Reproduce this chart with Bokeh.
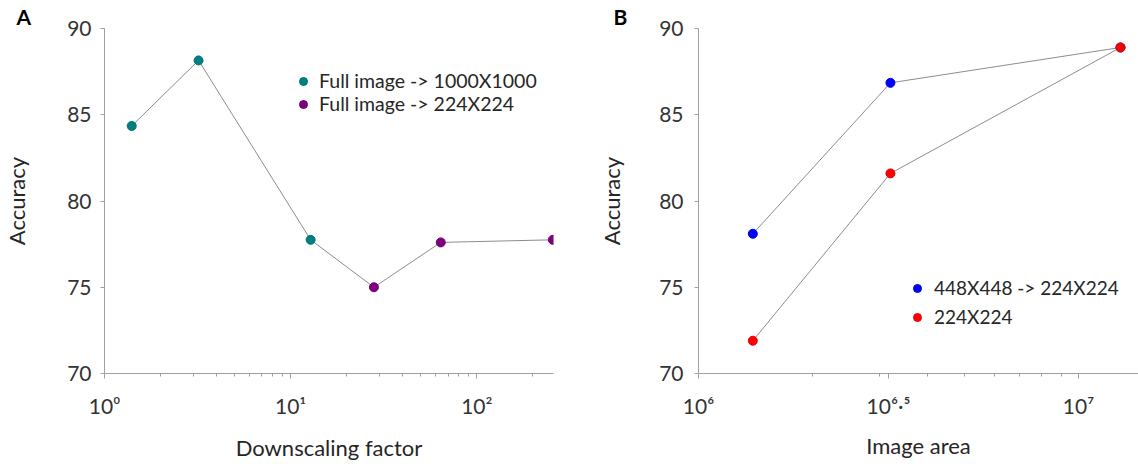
from bokeh.plotting import figure
from bokeh.models import (FixedTicker, Legend, LegendItem, Range1d, Title)
from bokeh.layouts import row
from bokeh.embed import file_html
from bokeh.resources import INLINE

# ---------------- data ----------------
# Panel A
a_factor_1000 = [1.4, 3.2, 12.8]
a_acc_1000 = [84.35, 88.15, 77.75]
a_factor_224 = [28.0, 64.0, 256.0]
a_acc_224 = [75.0, 77.6, 77.75]
a_ticks = [1, 10, 100]
a_tick_labels = ["10\u2070", "10\u00b9", "10\u00b2"]
a_minor_mult = [2, 3, 4, 5, 6, 7, 8, 9]

# Panel B
b_area = [1.39e6, 3.2e6, 1.29e7]
b_acc_448 = [78.1, 86.85, 88.9]
b_acc_224 = [71.9, 81.6, 88.9]
b_ticks = [1e6, 10 ** 6.5, 1e7]
b_tick_labels = ["10\u2076", "10\u2076\u00b7\u2075", "10\u2077"]
b_minor = [2e6, 3e6, 4e6, 5e6, 6e6, 7e6, 8e6, 9e6]

y_ticks = [70, 75, 80, 85, 90]

FONT = "Lato"
AXIS_COL = "#a0a0a0"
TXT = "#333333"
TITLE_COL = "#262626"
LINE_COL = "#8c8c8c"


def style(p, y_standoff, ylab_standoff, xlab_standoff):
    p.grid.visible = False
    p.outline_line_color = None
    p.background_fill_color = "white"
    p.border_fill_color = "white"
    yax = p.yaxis[0]
    yax.ticker = FixedTicker(ticks=y_ticks)
    yax.axis_line_color = AXIS_COL
    yax.major_tick_line_color = AXIS_COL
    yax.major_tick_out = 4
    yax.major_tick_in = 0
    yax.minor_tick_line_color = None
    yax.major_label_standoff = y_standoff
    yax.major_label_text_font = FONT
    yax.major_label_text_font_size = "21px"
    yax.major_label_text_color = TXT
    yax.axis_label = "Accuracy"
    yax.axis_label_text_font = FONT
    yax.axis_label_text_font_size = "22px"
    yax.axis_label_text_font_style = "normal"
    yax.axis_label_text_color = TITLE_COL
    yax.axis_label_standoff = ylab_standoff
    xax = p.xaxis[0]
    xax.axis_line_color = AXIS_COL
    xax.major_tick_line_color = AXIS_COL
    xax.minor_tick_line_color = AXIS_COL
    xax.major_tick_out = 5
    xax.major_tick_in = 0
    xax.minor_tick_out = 3
    xax.minor_tick_in = 0
    xax.major_label_text_font = FONT
    xax.major_label_text_font_size = "21px"
    xax.major_label_text_color = TXT
    xax.major_label_standoff = 14
    xax.axis_label_text_font = FONT
    xax.axis_label_text_font_size = "22px"
    xax.axis_label_text_font_style = "normal"
    xax.axis_label_text_color = TITLE_COL
    xax.axis_label_standoff = xlab_standoff


def add_legend(p, label, r, loc, standoff, size):
    lg = Legend(items=[LegendItem(label=label, renderers=[r])], location=loc,
                padding=0, margin=0, spacing=0,
                glyph_width=20, glyph_height=20, label_standoff=standoff,
                border_line_color=None, background_fill_alpha=0,
                label_text_font=FONT, label_text_font_size=size, label_text_color=TITLE_COL)
    p.add_layout(lg)


def panel_title(p, text, offset):
    p.add_layout(Title(text=text, align="left", offset=offset, standoff=0,
                       text_font=FONT, text_font_size="21px", text_font_style="bold",
                       text_color="black"), "above")


# ---------------- panel A ----------------
pa = figure(width=580, height=464, x_axis_type="log",
            x_range=Range1d(1, 258), y_range=Range1d(70, 90),
            min_border_left=104, min_border_right=27, min_border_top=24, min_border_bottom=91,
            toolbar_location=None, output_backend="svg")
style(pa, 9, 34, 13)
pa.xaxis[0].axis_label = "Downscaling factor"
a_minor = [m * t for t in a_ticks for m in a_minor_mult if m * t < 258]
pa.xaxis[0].ticker = FixedTicker(ticks=a_ticks, minor_ticks=a_minor)
pa.xaxis[0].major_label_overrides = dict(zip(a_ticks, a_tick_labels))

pa.line(a_factor_1000 + a_factor_224, a_acc_1000 + a_acc_224, line_color=LINE_COL, line_width=1)
ra1 = pa.scatter(a_factor_1000, a_acc_1000, size=9, fill_color="#008080", line_color="#007070")
ra2 = pa.scatter(a_factor_224, a_acc_224, size=9, fill_color="#800080", line_color="#700070")
add_legend(pa, "Full image -> 1000X1000", ra1, (189, 281), 6, "19.5px")
add_legend(pa, "Full image -> 224X224", ra2, (189, 258), 6, "19.5px")
panel_title(pa, "A", -88)

# ---------------- panel B ----------------
pb = figure(width=558, height=464, x_axis_type="log",
            x_range=Range1d(1e6, 10 ** 7.158), y_range=Range1d(70, 90),
            min_border_left=118, min_border_right=0, min_border_top=28, min_border_bottom=87,
            toolbar_location=None, output_backend="svg")
style(pb, 11, 31, 11)
pb.xaxis[0].axis_label = "Image area"
pb.xaxis[0].ticker = FixedTicker(ticks=b_ticks, minor_ticks=b_minor)
pb.xaxis[0].major_label_overrides = dict(zip(b_ticks, b_tick_labels))

pb.line(b_area, b_acc_448, line_color=LINE_COL, line_width=1)
pb.line(b_area, b_acc_224, line_color=LINE_COL, line_width=1)
rb1 = pb.scatter(b_area, b_acc_448, size=9, fill_color="#0000ff", line_color="#0000e0")
rb2 = pb.scatter(b_area, b_acc_224, size=9, fill_color="#ff0000", line_color="#e00000")
add_legend(pb, "448X448 -> 224X224", rb1, (209, 74), 7, "19px")
add_legend(pb, "224X224", rb2, (209, 45), 7, "19px")
panel_title(pb, "B", -85)

layout = row(pa, pb)
open("out.html", "w").write(file_html(layout, INLINE))
